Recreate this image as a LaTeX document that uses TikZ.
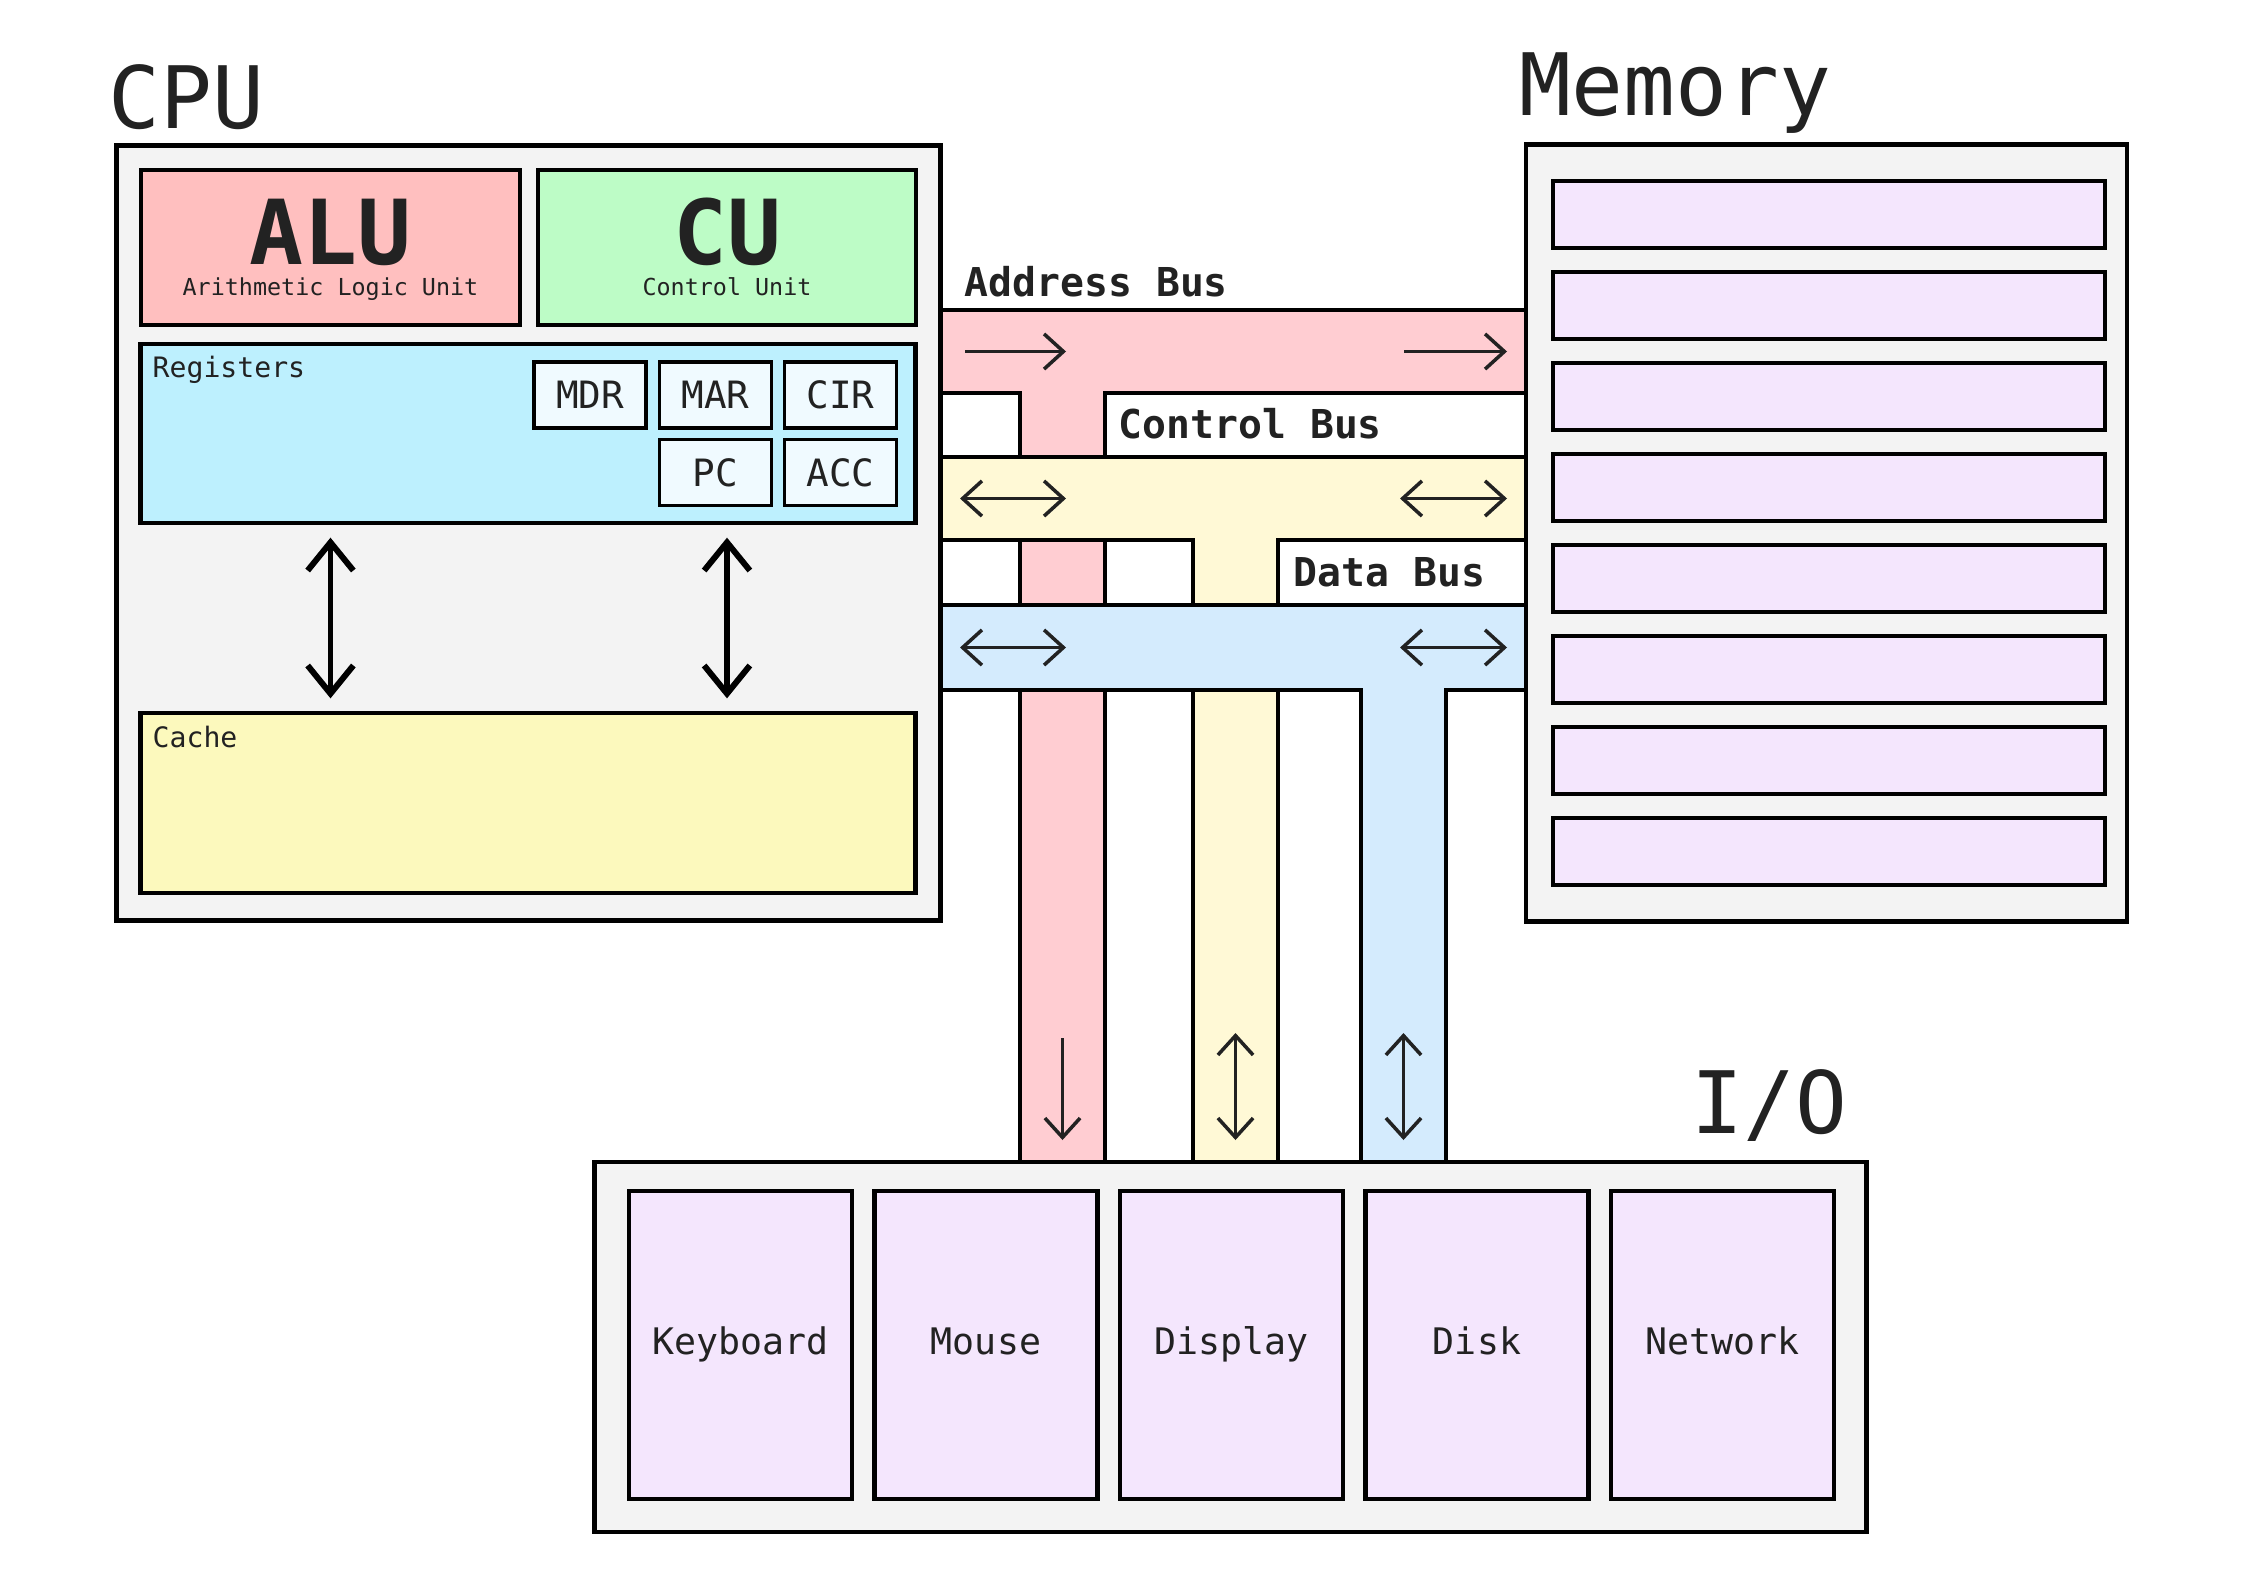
\documentclass[tikz,border=0pt]{standalone}
\usepackage{fontspec}
\setmainfont{DejaVu Sans Mono}
\usetikzlibrary{arrows.meta}
\definecolor{ink}{HTML}{222222}
\definecolor{panel}{HTML}{F3F3F3}
\definecolor{alured}{HTML}{FFBFBF}
\definecolor{cugreen}{HTML}{BDFCC6}
\definecolor{regblue}{HTML}{BDF0FE}
\definecolor{regcell}{HTML}{F0FAFF}
\definecolor{cacheyel}{HTML}{FCF9BD}
\definecolor{lav}{HTML}{F4E6FD}
\definecolor{addrbus}{HTML}{FFCDD2}
\definecolor{ctrlbus}{HTML}{FFF9D6}
\definecolor{databus}{HTML}{D4EBFD}
\begin{document}
\begin{tikzpicture}[x=0.01cm,y=-0.01cm,
  box/.style={draw=black,line width=1.3pt,inner sep=0pt},
  regbox/.style={box,line width=1pt,fill=regcell,minimum width=1.12cm,minimum height=0.66cm,text=ink,font=\fontsize{10.7}{12}\selectfont},
  cell/.style={box,fill=lav,minimum width=5.52cm,minimum height=0.67cm},
  dev/.style={box,fill=lav,minimum width=2.23cm,minimum height=3.08cm,text height=7.9pt,text depth=2.45pt,text=ink,font=\fontsize{10.4}{12}\selectfont},
  title/.style={anchor=base west,inner sep=0pt,text=ink,font=\fontsize{24.5}{29}\selectfont},
  unitname/.style={anchor=north,inner sep=0pt,align=center,text=ink,font=\bfseries\fontsize{25.5}{8.8}\selectfont},
  tag/.style={anchor=base west,inner sep=0pt,text=ink,font=\fontsize{8}{10}\selectfont},
  buslabel/.style={anchor=base west,inner sep=0pt,text=ink,font=\bfseries\fontsize{11.3}{13}\selectfont},
  bus/.style={draw=black,line width=1.2pt},
  busarrow/.style={draw=ink,line width=1pt,>={Straight Barb[length=5.5pt,width=10pt]}},
  cpuarrow/.style={line width=1.7pt,>={Straight Barb[length=8pt,width=13pt]},shorten <=3.5pt,shorten >=3.5pt}]
\useasboundingbox[fill=white] (0,0) rectangle (2245,1587);
% buses
\filldraw[bus,fill=addrbus] (940,310) -- (1526,310) -- (1526,393) -- (1105,393) -- (1105,1162)
  -- (1020,1162) -- (1020,393) -- (940,393) -- cycle;
\filldraw[bus,fill=ctrlbus] (940,457) -- (1526,457) -- (1526,540) -- (1278,540) -- (1278,1162)
  -- (1193,1162) -- (1193,540) -- (940,540) -- cycle;
\filldraw[bus,fill=databus] (940,605) -- (1526,605) -- (1526,690) -- (1446,690) -- (1446,1162)
  -- (1361,1162) -- (1361,690) -- (940,690) -- cycle;
\node[buslabel] (addrlabel) at (964,296) {Address Bus};
\node[buslabel] (ctrllabel) at (1118,438) {Control Bus};
\node[buslabel] (datalabel) at (1293,586) {Data Bus};
\draw[busarrow,->] (965,351.5) -- (1066,351.5);
\draw[busarrow,->] (1404,351.5) -- (1507,351.5);
\foreach \y in {498.5,647.5} {
  \draw[busarrow,<->] (960,\y) -- (1066,\y);
  \draw[busarrow,<->] (1400,\y) -- (1507,\y);
}
\draw[busarrow,->] (1062.5,1038) -- (1062.5,1140);
\foreach \x in {1235.5,1403.5}
  \draw[busarrow,<->] (\x,1033) -- (\x,1140);
% cpu
\node[box,fill=panel,minimum width=8.23cm,minimum height=7.74cm] (cpu) at (528.5,533) {};
\node[title] (cputitle) at (108,128) {CPU};
\node[box,fill=alured,minimum width=3.79cm,minimum height=1.55cm] (alu) at (330.5,247.5) {};
\node[unitname] (aluname) at (330.5,198.5) {ALU\\\mdseries\fontsize{6.65}{8}\selectfont Arithmetic Logic Unit};
\node[box,fill=cugreen,minimum width=3.78cm,minimum height=1.55cm] (cu) at (727,247.5) {};
\node[unitname] (cuname) at (727,197.5) {CU\\\mdseries\fontsize{6.65}{8}\selectfont Control Unit};
\node[box,fill=regblue,minimum width=7.74cm,minimum height=1.79cm] (regs) at (528,433.5) {};
\node[tag] (regstag) at (152,377) {Registers};
\node[regbox] (mdr) at (590,395) {MDR};
\node[regbox] (mar) at (715.5,395) {MAR};
\node[regbox] (cir) at (840.5,395) {CIR};
\node[regbox] (pc) at (715.5,472.5) {PC};
\node[regbox] (acc) at (840.5,472.5) {ACC};
\node[box,fill=cacheyel,minimum width=7.74cm,minimum height=1.80cm] (cache) at (528,803) {};
\node[tag] (cachetag) at (152,747) {Cache};
\draw[cpuarrow,<->] (alu |- regs.south) -- (alu |- cache.north);
\draw[cpuarrow,<->] (cu |- regs.south) -- (cu |- cache.north);
% memory
\node[box,fill=panel,minimum width=6.01cm,minimum height=7.76cm] (mem) at (1826.5,533) {};
\node[title] (memtitle) at (1519,115) {Memory};
\foreach \i in {0,...,7}
  \node[cell] (cell\i) at (1829,214.5+91*\i) {};
% io
\node[box,fill=panel,minimum width=12.71cm,minimum height=3.70cm] (io) at (1230.5,1347) {};
\node[title] (iotitle) at (1691,1133) {I/O};
\foreach \name/\x in {Keyboard/740.5,Mouse/986,Display/1231.5,Disk/1477,Network/1722.5}
  \node[dev] (\name) at (\x,1345) {\name};
\end{tikzpicture}
\end{document}
